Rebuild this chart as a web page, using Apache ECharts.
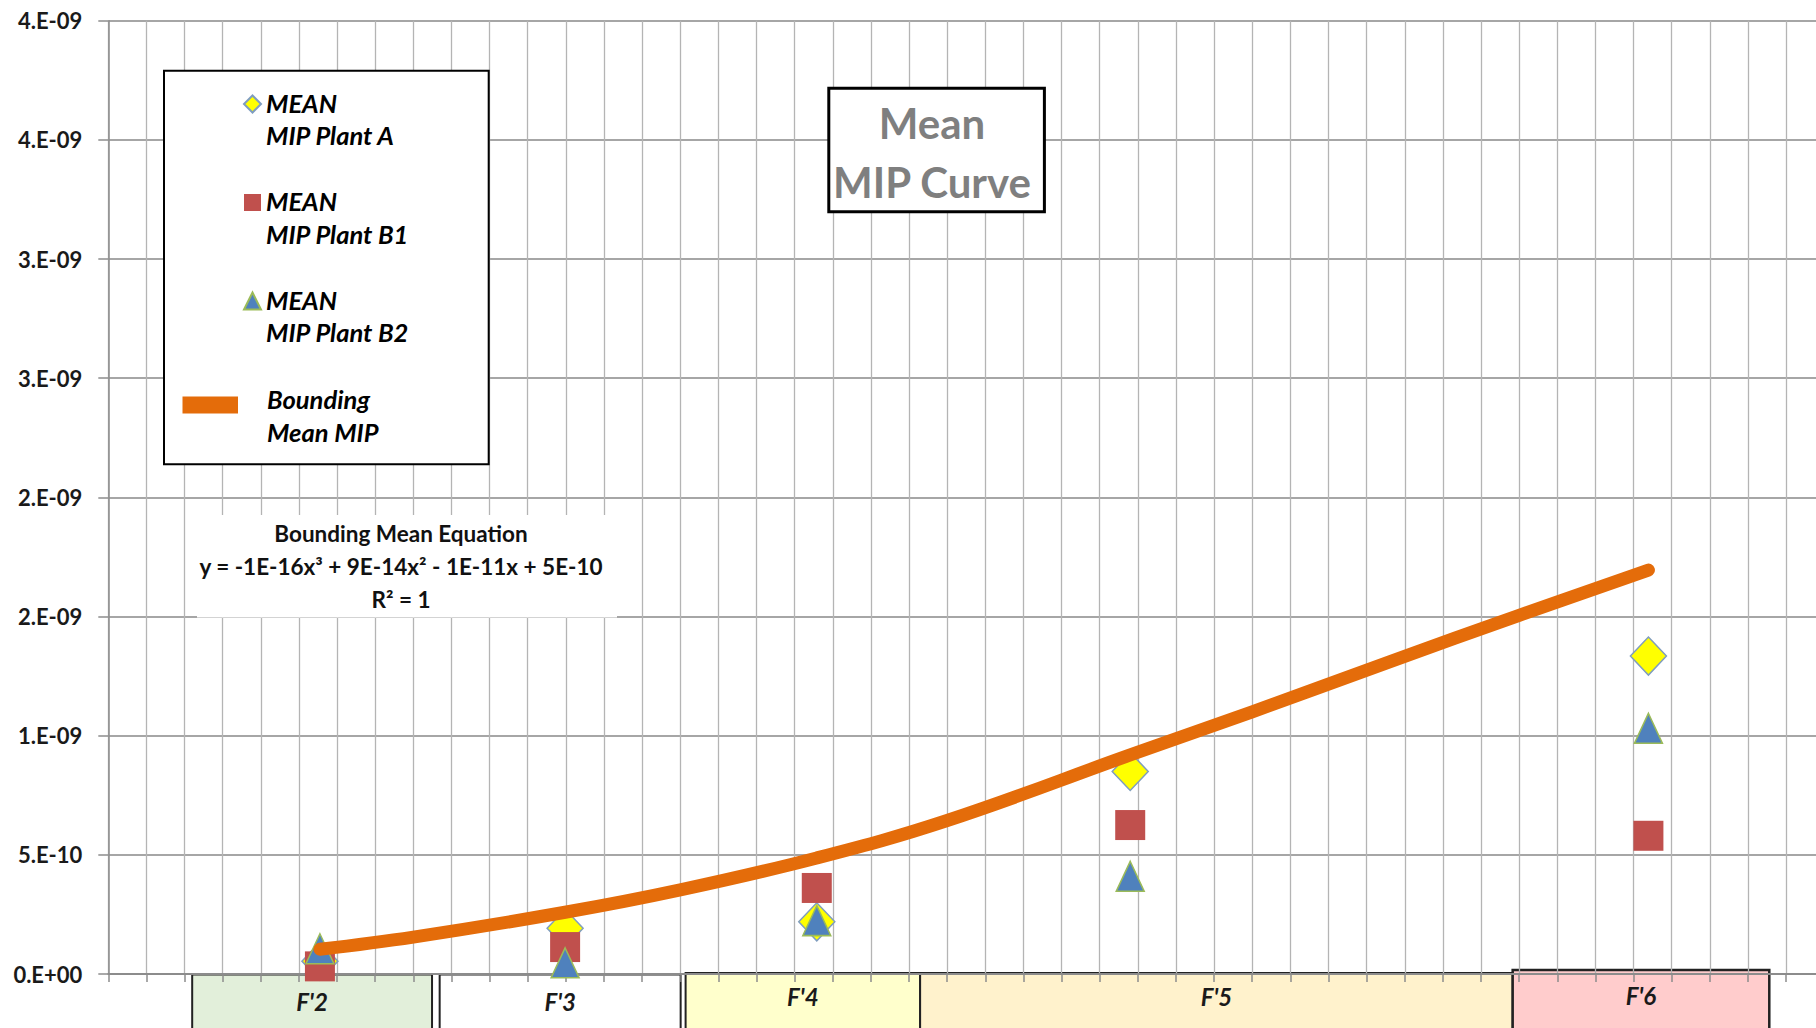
<!DOCTYPE html>
<html>
<head>
<meta charset="utf-8">
<title>Mean MIP Curve</title>
<script src="https://cdn.jsdelivr.net/npm/echarts@6/dist/echarts.min.js"></script>
<style>
  html, body { margin: 0; padding: 0; background: #fff; }
  #chart { width: 1816px; height: 1028px; }
</style>
</head>
<body>
<div id="chart"></div>
<script>
// x is measured in gridline units (one vertical gridline per unit)
const pointX = [5.55, 11.98, 18.58, 26.8, 40.39]
const plantA = [5.4e-11, 1.92e-10, 2.19e-10, 8.5e-10, 1.334e-9]
const plantB1 = [3.2e-11, 1.13e-10, 3.61e-10, 6.25e-10, 5.8e-10]
const plantB2 = [1.06e-10, 4.7e-11, 2.24e-10, 4.1e-10, 1.031e-9]

// bounding mean curve
const curveX = [5.55, 8, 11.98, 15, 18.58, 22, 26.8, 30, 33.6, 37, 40.39]
const curveY = [1.04e-10, 1.55e-10, 2.59e-10, 3.53e-10, 4.87e-10, 6.44e-10, 9.19e-10, 1.10e-9, 1.31e-9, 1.505e-9, 1.695e-9]

// F' zones under the x axis
const zoneLabels = ["F'2", "F'3", "F'4", "F'5", "F'6"]
const zoneFrom = [2.2, 8.69, 15.14, 21.29, 36.83]
const zoneTo = [8.49, 15.01, 21.29, 36.83, 43.56]

const yTickLabels = ['0.E+00', '5.E-10', '1.E-09', '2.E-09', '2.E-09', '3.E-09', '3.E-09', '4.E-09', '4.E-09']

const seriesNames = ['MEAN MIP Plant A', 'MEAN MIP Plant B1', 'MEAN MIP Plant B2', 'Bounding Mean MIP']
const equationLines = ['Bounding Mean Equation', 'y = -1E-16x\u00b3 + 9E-14x\u00b2 - 1E-11x + 5E-10', 'R\u00b2 = 1']
const titleLines = ['Mean', 'MIP Curve']

// styling
const FONT = 'Lato, "Open Sans", sans-serif'
const zoneColors = ['#E2EFDA', '#FFFFFF', '#FFFFCC', '#FFF2CC', '#FFCCCC']
const zoneTops = [974.5, 974.5, 973, 973, 970]
const orange = '#E46C0A'

const chart = echarts.init(document.getElementById('chart'), null, { renderer: 'svg' })

function makeScatter(name, values, symbol, size, color, borderColor) {
  return {
    name: name,
    type: 'scatter',
    symbol: symbol,
    symbolSize: size,
    clip: false,
    data: pointX.map((x, i) => [x, values[i]]),
    itemStyle: { color: color, borderColor: borderColor || color, borderWidth: borderColor ? 1.5 : 0, opacity: 1 },
    emphasis: { disabled: true }
  }
}

// legend label: an empty spacer line on top, so the first text line sits level with the icon
function legendLabel(name) {
  const i = name.indexOf(' ')
  return '{e|}\n{t|' + name.slice(0, i) + '}\n{t|' + name.slice(i + 1) + '}'
}

function legendRich(spacer, indent) {
  const t = {
    fontFamily: FONT,
    fontWeight: 'bold',
    fontStyle: 'italic',
    fontSize: 25.5,
    color: '#000',
    lineHeight: 32.5,
    padding: [0, 0, 0, indent]
  }
  return {
    fontFamily: FONT,
    fontWeight: 'bold',
    fontStyle: 'italic',
    fontSize: 25.5,
    color: '#000',
    lineHeight: 32.5,
    rich: {
      e: { lineHeight: spacer, fontSize: 10 },
      t: t
    }
  }
}

const option = {
  animation: false,
  backgroundColor: '#fff',
  grid: {
    left: 108.3,
    top: 20.7,
    width: 1715.9,
    height: 953.3,
    outerBoundsMode: 'none'
  },
  xAxis: {
    type: 'value',
    min: 0,
    max: 45,
    interval: 1,
    z: 1.5,
    axisLabel: { show: false },
    axisTick: { show: true, length: 8, lineStyle: { color: '#8c8c8c', width: 1.5 } },
    axisLine: { show: true, onZero: false, lineStyle: { color: '#8c8c8c', width: 2 } },
    splitLine: { show: true, lineStyle: { color: '#b4b4b4', width: 1.3 } }
  },
  yAxis: {
    type: 'value',
    min: 0,
    max: 4e-9,
    interval: 5e-10,
    z: 1.5,
    axisLine: { show: true, lineStyle: { color: '#8c8c8c', width: 1.5 } },
    axisTick: { show: true, length: 10, lineStyle: { color: '#8c8c8c', width: 1.5 } },
    axisLabel: {
      margin: 26,
      color: '#1a1a1a',
      fontFamily: FONT,
      fontWeight: 'bold',
      fontSize: 22,
      formatter: v => yTickLabels[Math.round(v / 5e-10)]
    },
    splitLine: { show: true, lineStyle: { color: '#a6a6a6', width: 2 } }
  },
  legend: [
    {
      data: [
        { name: seriesNames[0], icon: 'diamond' },
        { name: seriesNames[1], icon: 'rect' },
        { name: seriesNames[2], icon: 'triangle' }
      ],
      orient: 'vertical',
      left: 243,
      top: 56.5,
      padding: 0,
      itemGap: 3.5,
      itemWidth: 17,
      itemHeight: 17,
      selectedMode: false,
      formatter: legendLabel,
      textStyle: legendRich(30, 0)
    },
    {
      data: [{ name: seriesNames[3], icon: 'rect', itemStyle: { color: orange, borderWidth: 0 } }],
      orient: 'vertical',
      left: 182.5,
      top: 362.25,
      padding: 0,
      itemWidth: 55.5,
      itemHeight: 17,
      selectedMode: false,
      formatter: legendLabel,
      textStyle: legendRich(20.5, 24)
    }
  ],
  graphic: [
    // legend frame
    { type: 'rect', z: 3, silent: true, shape: { x: 164, y: 70.7, width: 324.7, height: 393.6 },
      style: { fill: '#fff', stroke: '#000', lineWidth: 2 } },
    // trendline equation
    { type: 'rect', z: 3, silent: true, shape: { x: 197, y: 515, width: 420, height: 102.5 },
      style: { fill: '#fff' } },
    { type: 'text', z: 4, silent: true,
      style: {
        text: equationLines.join('\n'), x: 401, y: 566.4,
        align: 'center', verticalAlign: 'middle', textAlign: 'center', textVerticalAlign: 'middle',
        font: 'bold 22.5px ' + FONT, lineHeight: 33.3, fill: '#111'
      } },
    // title box
    { type: 'rect', z: 3, silent: true, shape: { x: 828.8, y: 88.3, width: 215.6, height: 123.4 },
      style: { fill: '#fff', stroke: '#000', lineWidth: 3 } },
    { type: 'text', z: 4, silent: true,
      style: {
        text: titleLines.join('\n'), x: 932, y: 152.5,
        align: 'center', verticalAlign: 'middle', textAlign: 'center', textVerticalAlign: 'middle',
        font: 'bold 42px ' + FONT, lineHeight: 58.4, fill: '#7f7f7f'
      } }
  ],
  series: [
    makeScatter(seriesNames[0], plantA, 'diamond', [36, 38], '#FFFF00', '#7F9DBF'),
    makeScatter(seriesNames[1], plantB1, 'rect', 30, '#C0504D'),
    makeScatter(seriesNames[2], plantB2, 'triangle', [28, 30], '#4F81BD', '#9BBB59'),
    {
      name: seriesNames[3],
      type: 'line',
      smooth: 0.4,
      symbol: 'none',
      data: curveX.map((x, i) => [x, curveY[i]]),
      itemStyle: { color: orange },
      lineStyle: { color: orange, width: 13, cap: 'round', join: 'round' },
      emphasis: { disabled: true },
      markArea: {
        silent: true,
        data: zoneLabels.map((label, i) => [
          {
            name: label,
            xAxis: zoneFrom[i],
            y: zoneTops[i],
            itemStyle: { color: zoneColors[i], borderColor: '#222', borderWidth: i === 4 ? 2.5 : 2 },
            label: {
              show: true,
              position: ['50%', i < 2 ? 27.5 : 997 - zoneTops[i]],
              align: 'center',
              verticalAlign: 'middle',
              color: '#1a1a1a',
              fontFamily: FONT,
              fontWeight: 'bold',
              fontStyle: 'italic',
              fontSize: 24
            }
          },
          { xAxis: zoneTo[i], y: 1045 }
        ])
      }
    }
  ]
}

chart.setOption(option)
window.addEventListener('resize', () => chart.resize())
</script>
</body>
</html>
